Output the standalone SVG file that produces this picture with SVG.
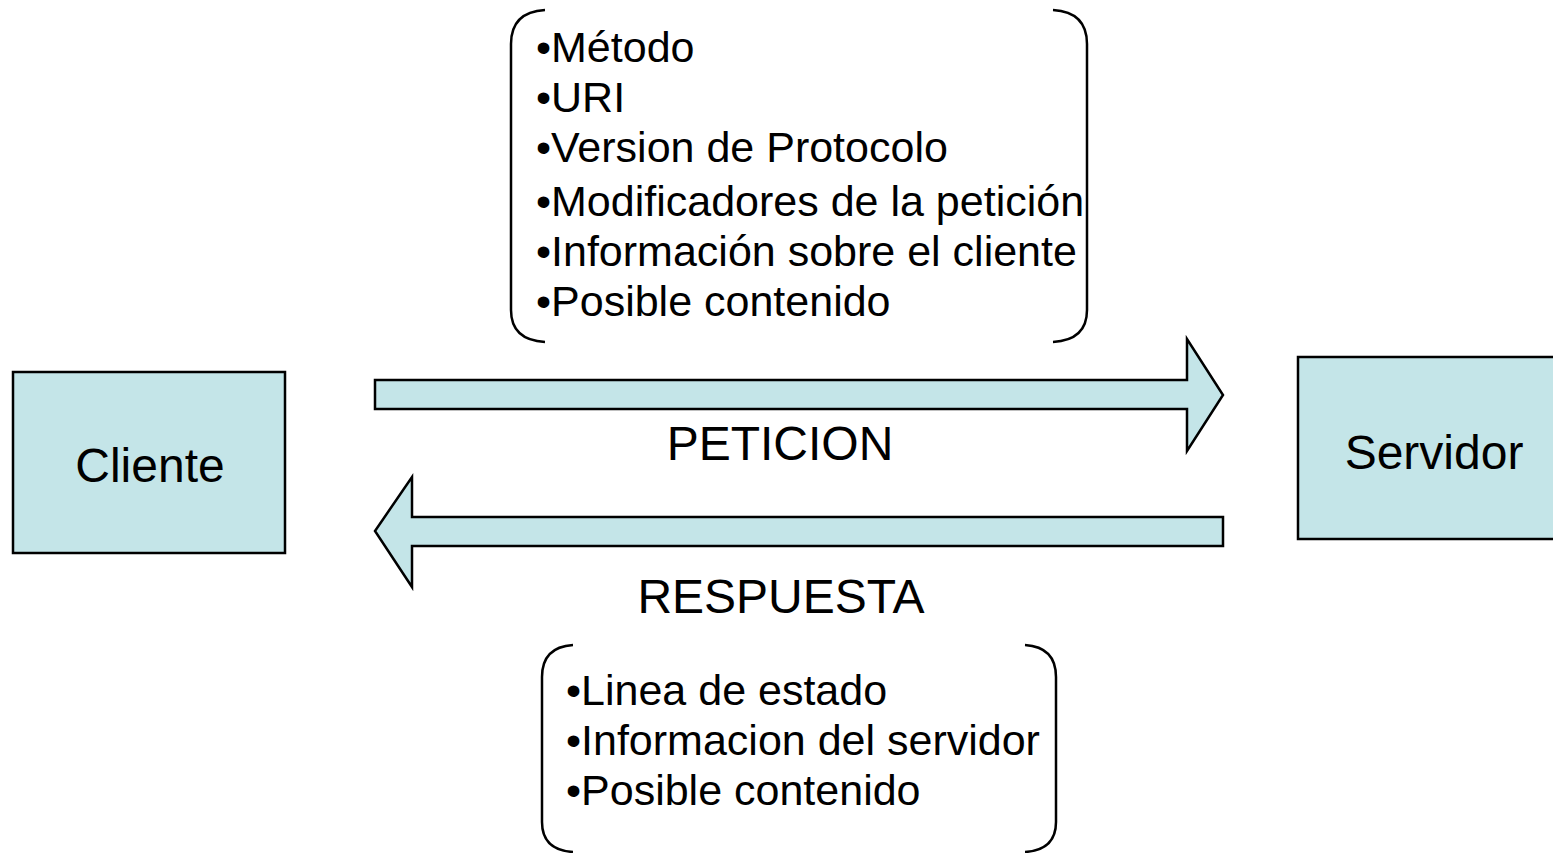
<svg xmlns="http://www.w3.org/2000/svg" width="1553" height="853" viewBox="0 0 1553 853">
<style>
.box{fill:#c4e5e8;stroke:#000;stroke-width:2.5}
.arrow{fill:#c4e5e8;stroke:#000;stroke-width:2.5;stroke-linejoin:miter}
.br{fill:none;stroke:#000;stroke-width:2.5}
text{font-family:"Liberation Sans",Arial,sans-serif;font-size:43px;fill:#000}
.lbl{font-size:48px;text-anchor:middle}
</style>
<rect width="1553" height="853" fill="#fff"/>
<g id="cliente">
<rect class="box" x="13" y="372" width="272" height="181"/>
<text class="lbl" x="150" y="482">Cliente</text>
</g>
<g id="servidor">
<rect class="box" x="1298" y="357" width="270" height="182"/>
<text class="lbl" x="1434" y="469">Servidor</text>
</g>
<g id="connectors">
<path id="peticion-arrow" class="arrow" d="M375,380 L1187,380 L1187,339 L1223,395 L1187,451 L1187,409 L375,409 Z"/>
<path id="respuesta-arrow" class="arrow" d="M1223,517 L412,517 L412,477 L375,531 L412,587 L412,546 L1223,546 Z"/>
</g>
<g id="label-peticion"><text class="lbl" x="780" y="460">PETICION</text></g>
<g id="label-respuesta"><text class="lbl" x="781" y="613">RESPUESTA</text></g>
<g id="peticion-details">
<path class="br" d="M545,10 Q511,12 511,44 L511,310 Q511,340 545,342"/>
<path class="br" d="M1053,10 Q1087,12 1087,44 L1087,310 Q1087,340 1053,342"/>
<text x="536" y="62">•Método</text>
<text x="536" y="112">•URI</text>
<text x="536" y="162">•Version de Protocolo</text>
<text x="536" y="216">•Modificadores de la petición</text>
<text x="536" y="266">•Información sobre el cliente</text>
<text x="536" y="316">•Posible contenido</text>
</g>
<g id="respuesta-details">
<path class="br" d="M573,645 Q542,647 542,677 L542,822 Q542,850 573,852"/>
<path class="br" d="M1025,645 Q1056,647 1056,677 L1056,822 Q1056,850 1025,852"/>
<text x="566" y="705">•Linea de estado</text>
<text x="566" y="755">•Informacion del servidor</text>
<text x="566" y="805">•Posible contenido</text>
</g>
</svg>
